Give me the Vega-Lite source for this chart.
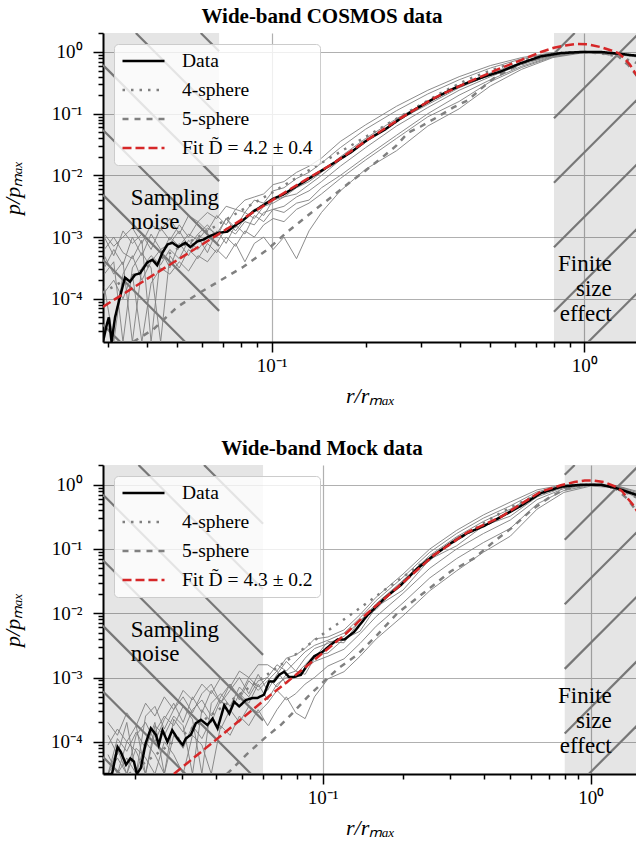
{
"$schema":"https://vega.github.io/schema/vega-lite/v6.json",
"background":"white",
"padding":{"left":1,"top":6,"right":0,"bottom":0},
"config":{
 "font":"Liberation Serif",
 "view":{"stroke":null},
 "axis":{"labelFont":"Liberation Serif","labelFontSize":19,"labelColor":"black","titleFont":"Liberation Serif","titleFontSize":22,"titleFontWeight":"normal","titleFontStyle":"italic","titleColor":"black","domainColor":"black","domainWidth":2,"tickColor":"black","tickWidth":1.5,"gridColor":"#b0b0b0","gridWidth":1.2,"labelOverlap":false,"labelFlush":false},
 "legend":{"orient":"top-left","offset":11,"fillColor":"rgba(255,255,255,0.8)","strokeColor":"#cccccc","cornerRadius":4,"padding":7,"symbolType":"stroke","symbolSize":1764,"symbolStrokeWidth":2.5,"clipHeight":20,"rowPadding":9,"labelOffset":16,"labelFont":"Liberation Serif","labelFontSize":19.5,"labelColor":"black","labelLimit":400},
 "title":{"font":"Liberation Serif","fontSize":21,"fontWeight":"bold","color":"black"}
},
"datasets":{
"topShade":[{"x":0.02892,"x2":0.068,"y":1.995e-5,"y2":2.032},{"x":0.8,"x2":1.474,"y":1.995e-5,"y2":2.032}],
"botShade":[{"x":0.01518,"x2":0.06,"y":3.15e-5,"y2":2.027},{"x":0.8,"x2":1.488,"y":3.15e-5,"y2":2.027}],
"topHatch":[
{"x":0.05939,"y":2.032,"x2":0.06799,"y2":1.026},
{"x":0.03683,"y":2.032,"x2":0.06799,"y2":0.0911},
{"x":0.02892,"y":0.6134,"x2":0.06799,"y2":0.008083},
{"x":0.02892,"y":0.05441,"x2":0.06799,"y2":0.0007175},
{"x":0.02892,"y":0.004831,"x2":0.06799,"y2":6.368e-5},
{"x":0.02892,"y":0.0004286,"x2":0.05299,"y2":1.995e-5},
{"x":0.02892,"y":3.803e-5,"x2":0.03286,"y2":1.995e-5},
{"x":0.8,"y":0.9385,"x2":0.9318,"y2":2.032},
{"x":0.8,"y":0.08455,"x2":1.474,"y2":1.872},
{"x":0.8,"y":0.007616,"x2":1.474,"y2":0.1686},
{"x":0.8,"y":0.0006861,"x2":1.474,"y2":0.01519},
{"x":0.8,"y":6.178e-5,"x2":1.474,"y2":0.001368},
{"x":1.0291,"y":1.995e-5,"x2":1.474,"y2":0.0001232}],
"botHatch":[
{"x":0.03615,"y":2.027,"x2":0.06,"y2":0.2469},
{"x":0.0206,"y":2.027,"x2":0.06,"y2":0.02357},
{"x":0.01518,"y":0.6985,"x2":0.06,"y2":0.002249},
{"x":0.01518,"y":0.06668,"x2":0.06,"y2":0.0002147},
{"x":0.01518,"y":0.006364,"x2":0.05415,"y2":3.15e-5},
{"x":0.01518,"y":0.0006074,"x2":0.03085,"y2":3.15e-5},
{"x":0.01518,"y":5.797e-5,"x2":0.01757,"y2":3.15e-5},
{"x":0.8,"y":1.432,"x2":0.8715,"y2":2.027},
{"x":0.8,"y":0.1391,"x2":1.488,"y2":1.86},
{"x":0.8,"y":0.01376,"x2":1.488,"y2":0.184},
{"x":0.8,"y":0.001361,"x2":1.488,"y2":0.0182},
{"x":0.8,"y":0.0001346,"x2":1.488,"y2":0.0018},
{"x":0.983,"y":3.15e-5,"x2":1.488,"y2":0.0001781}],
"topText":[{"a":"l","x":0.0355,"y":0.00335,"t":"Sampling\nnoise"},{"a":"r","x":1.224,"y":0.000278,"t":"Finite\nsize\neffect"}],
"botText":[{"a":"l","x":0.01927,"y":0.004335,"t":"Sampling\nnoise"},{"a":"r","x":1.198,"y":0.000396,"t":"Finite\nsize\neffect"}],
"topMain":[
{"s":"Fit","x":0.0289,"y":7.4e-5},{"s":"Fit","x":0.04,"y":2.1e-4},{"s":"Fit","x":0.06,"y":7.6e-4},{"s":"Fit","x":0.08,"y":1.9e-3},{"s":"Fit","x":0.1,"y":3.9e-3},{"s":"Fit","x":0.124,"y":7.6e-3},{"s":"Fit","x":0.158,"y":0.0158},{"s":"Fit","x":0.203,"y":0.038},{"s":"Fit","x":0.259,"y":0.085},{"s":"Fit","x":0.33,"y":0.178},{"s":"Fit","x":0.425,"y":0.324},{"s":"Fit","x":0.542,"y":0.55},{"s":"Fit","x":0.628,"y":0.74},{"s":"Fit","x":0.727,"y":1.0},{"s":"Fit","x":0.8,"y":1.17},{"s":"Fit","x":0.87,"y":1.28},{"s":"Fit","x":0.95,"y":1.35},{"s":"Fit","x":1.03,"y":1.33},{"s":"Fit","x":1.13,"y":1.2},{"s":"Fit","x":1.22,"y":1.06},{"s":"Fit","x":1.285,"y":0.96},{"s":"Fit","x":1.34,"y":0.8},{"s":"Fit","x":1.4,"y":0.62},{"s":"Fit","x":1.474,"y":0.41},
{"s":"Data","x":0.0289,"y":1.995e-5},{"s":"Data","x":0.0298,"y":4e-5},{"s":"Data","x":0.0302,"y":5e-5},{"s":"Data","x":0.0308,"y":1.995e-5},{"s":"Data","x":0.0316,"y":5e-5},{"s":"Data","x":0.0328,"y":1.1e-4},{"s":"Data","x":0.034,"y":2.2e-4},{"s":"Data","x":0.0353,"y":1.9e-4},{"s":"Data","x":0.0366,"y":2.45e-4},{"s":"Data","x":0.038,"y":2.6e-4},{"s":"Data","x":0.0401,"y":3.9e-4},{"s":"Data","x":0.0416,"y":4.3e-4},{"s":"Data","x":0.0431,"y":3.5e-4},{"s":"Data","x":0.0448,"y":5.6e-4},{"s":"Data","x":0.0465,"y":7.6e-4},{"s":"Data","x":0.0482,"y":8.1e-4},{"s":"Data","x":0.0504,"y":6.9e-4},{"s":"Data","x":0.053,"y":8.1e-4},{"s":"Data","x":0.055,"y":6.9e-4},{"s":"Data","x":0.0579,"y":8.5e-4},{"s":"Data","x":0.0605,"y":9.1e-4},{"s":"Data","x":0.0638,"y":1.05e-3},{"s":"Data","x":0.0676,"y":1.17e-3},{"s":"Data","x":0.0723,"y":1.23e-3},{"s":"Data","x":0.0755,"y":1.48e-3},{"s":"Data","x":0.0813,"y":1.9e-3},{"s":"Data","x":0.0875,"y":2.6e-3},{"s":"Data","x":0.0942,"y":3.3e-3},{"s":"Data","x":0.1014,"y":4.2e-3},{"s":"Data","x":0.109,"y":4.9e-3},{"s":"Data","x":0.118,"y":6.3e-3},{"s":"Data","x":0.13,"y":8.5e-3},{"s":"Data","x":0.1436,"y":0.0117},{"s":"Data","x":0.158,"y":0.0158},{"s":"Data","x":0.18,"y":0.024},{"s":"Data","x":0.203,"y":0.038},{"s":"Data","x":0.23,"y":0.055},{"s":"Data","x":0.259,"y":0.084},{"s":"Data","x":0.29,"y":0.12},{"s":"Data","x":0.33,"y":0.175},{"s":"Data","x":0.375,"y":0.245},{"s":"Data","x":0.425,"y":0.32},{"s":"Data","x":0.48,"y":0.4},{"s":"Data","x":0.5415,"y":0.485},{"s":"Data","x":0.627,"y":0.66},{"s":"Data","x":0.727,"y":0.85},{"s":"Data","x":0.842,"y":0.96},{"s":"Data","x":0.977,"y":1.0},{"s":"Data","x":1.13,"y":1.0},{"s":"Data","x":1.285,"y":0.94},{"s":"Data","x":1.474,"y":0.87},
{"s":"4-sphere","x":0.0289,"y":1.26e-4},{"s":"4-sphere","x":0.035,"y":2.2e-4},{"s":"4-sphere","x":0.04,"y":3.3e-4},{"s":"4-sphere","x":0.05,"y":6.5e-4},{"s":"4-sphere","x":0.06,"y":1.1e-3},{"s":"4-sphere","x":0.07,"y":1.8e-3},{"s":"4-sphere","x":0.08,"y":2.7e-3},{"s":"4-sphere","x":0.1,"y":5.2e-3},{"s":"4-sphere","x":0.12,"y":9.1e-3},{"s":"4-sphere","x":0.14,"y":0.0145},{"s":"4-sphere","x":0.17,"y":0.026},{"s":"4-sphere","x":0.2,"y":0.042},{"s":"4-sphere","x":0.25,"y":0.082},{"s":"4-sphere","x":0.3,"y":0.14},{"s":"4-sphere","x":0.35,"y":0.22},{"s":"4-sphere","x":0.42,"y":0.35},{"s":"4-sphere","x":0.5,"y":0.5},{"s":"4-sphere","x":0.6,"y":0.68},{"s":"4-sphere","x":0.7,"y":0.83},{"s":"4-sphere","x":0.8,"y":0.93},{"s":"4-sphere","x":0.9,"y":0.99},{"s":"4-sphere","x":1.0,"y":1.0},{"s":"4-sphere","x":1.13,"y":0.95},{"s":"4-sphere","x":1.285,"y":0.85},{"s":"4-sphere","x":1.474,"y":0.66},
{"s":"5-sphere","x":0.0361,"y":2.0e-5},{"s":"5-sphere","x":0.0419,"y":3.2e-5},{"s":"5-sphere","x":0.05,"y":7.4e-5},{"s":"5-sphere","x":0.059,"y":1.26e-4},{"s":"5-sphere","x":0.0676,"y":1.9e-4},{"s":"5-sphere","x":0.0813,"y":3.3e-4},{"s":"5-sphere","x":0.097,"y":6.3e-4},{"s":"5-sphere","x":0.112,"y":1.2e-3},{"s":"5-sphere","x":0.13,"y":2.2e-3},{"s":"5-sphere","x":0.138,"y":2.8e-3},{"s":"5-sphere","x":0.16,"y":5.0e-3},{"s":"5-sphere","x":0.179,"y":7.9e-3},{"s":"5-sphere","x":0.2,"y":0.012},{"s":"5-sphere","x":0.227,"y":0.02},{"s":"5-sphere","x":0.25,"y":0.03},{"s":"5-sphere","x":0.273,"y":0.049},{"s":"5-sphere","x":0.3,"y":0.062},{"s":"5-sphere","x":0.34,"y":0.089},{"s":"5-sphere","x":0.38,"y":0.125},{"s":"5-sphere","x":0.425,"y":0.166},{"s":"5-sphere","x":0.47,"y":0.26},{"s":"5-sphere","x":0.515,"y":0.38},{"s":"5-sphere","x":0.57,"y":0.51},{"s":"5-sphere","x":0.65,"y":0.68},{"s":"5-sphere","x":0.75,"y":0.85},{"s":"5-sphere","x":0.85,"y":0.95},{"s":"5-sphere","x":1.0,"y":1.0},{"s":"5-sphere","x":1.13,"y":0.98},{"s":"5-sphere","x":1.285,"y":0.85},{"s":"5-sphere","x":1.38,"y":0.62},{"s":"5-sphere","x":1.474,"y":0.41}
],
"topBundle":[
{"c":"g1","x":0.0292,"y":1e-3},{"c":"g1","x":0.0313,"y":5e-4},{"c":"g1","x":0.0335,"y":1.26e-3},{"c":"g1","x":0.0359,"y":7.9e-4},{"c":"g1","x":0.0385,"y":1.12e-3},{"c":"g1","x":0.0412,"y":6.3e-4},{"c":"g1","x":0.0442,"y":1.41e-3},{"c":"g1","x":0.0473,"y":8.9e-4},{"c":"g1","x":0.0507,"y":1.58e-3},{"c":"g1","x":0.0543,"y":1e-3},{"c":"g1","x":0.0582,"y":1.78e-3},{"c":"g1","x":0.0624,"y":1.26e-3},{"c":"g1","x":0.0668,"y":2.24e-3},{"c":"g1","x":0.0716,"y":1.58e-3},{"c":"g1","x":0.0767,"y":2.82e-3},{"c":"g1","x":0.0822,"y":2.51e-3},{"c":"g1","x":0.0881,"y":3.98e-3},{"c":"g1","x":0.0944,"y":3.55e-3},{"c":"g1","x":0.1012,"y":5.62e-3},{"c":"g1","x":0.1096,"y":6.31e-3},{"c":"g1","x":0.1202,"y":8.91e-3},{"c":"g1","x":0.1318,"y":0.0112},{"c":"g1","x":0.1445,"y":0.0158},{"c":"g1","x":0.166,"y":0.0282},{"c":"g1","x":0.2,"y":0.0562},{"c":"g1","x":0.251,"y":0.112},{"c":"g1","x":0.316,"y":0.209},{"c":"g1","x":0.398,"y":0.355},{"c":"g1","x":0.501,"y":0.55},{"c":"g1","x":0.631,"y":0.776},{"c":"g1","x":0.794,"y":0.955},{"c":"g1","x":1,"y":1},{"c":"g1","x":1.259,"y":0.933},{"c":"g1","x":1.474,"y":0.851},
{"c":"g2","x":0.0292,"y":3.16e-4},{"c":"g2","x":0.0313,"y":6.3e-4},{"c":"g2","x":0.0335,"y":3.55e-4},{"c":"g2","x":0.0359,"y":1e-3},{"c":"g2","x":0.0385,"y":5e-4},{"c":"g2","x":0.0412,"y":1.12e-3},{"c":"g2","x":0.0442,"y":6.3e-4},{"c":"g2","x":0.0473,"y":7.9e-4},{"c":"g2","x":0.0507,"y":1.26e-3},{"c":"g2","x":0.0543,"y":7.1e-4},{"c":"g2","x":0.0582,"y":1.12e-3},{"c":"g2","x":0.0624,"y":1.58e-3},{"c":"g2","x":0.0668,"y":1e-3},{"c":"g2","x":0.0716,"y":2e-3},{"c":"g2","x":0.0767,"y":1.41e-3},{"c":"g2","x":0.0822,"y":2.51e-3},{"c":"g2","x":0.0881,"y":2e-3},{"c":"g2","x":0.0944,"y":3.16e-3},{"c":"g2","x":0.1012,"y":3.55e-3},{"c":"g2","x":0.1096,"y":4.47e-3},{"c":"g2","x":0.1202,"y":6.31e-3},{"c":"g2","x":0.1318,"y":7.94e-3},{"c":"g2","x":0.1445,"y":0.0112},{"c":"g2","x":0.166,"y":0.02},{"c":"g2","x":0.2,"y":0.0398},{"c":"g2","x":0.251,"y":0.0832},{"c":"g2","x":0.316,"y":0.158},{"c":"g2","x":0.398,"y":0.282},{"c":"g2","x":0.501,"y":0.457},{"c":"g2","x":0.631,"y":0.676},{"c":"g2","x":0.794,"y":0.891},{"c":"g2","x":1,"y":1},{"c":"g2","x":1.259,"y":0.933},{"c":"g2","x":1.474,"y":0.851},
{"c":"g3","x":0.0292,"y":1.58e-4},{"c":"g3","x":0.0313,"y":1.995e-5},{"c":"g3","x":0.0335,"y":2.51e-4},{"c":"g3","x":0.0359,"y":5e-4},{"c":"g3","x":0.0385,"y":2e-4},{"c":"g3","x":0.0412,"y":3.98e-4},{"c":"g3","x":0.0442,"y":6.3e-4},{"c":"g3","x":0.0473,"y":3.16e-4},{"c":"g3","x":0.0507,"y":7.9e-4},{"c":"g3","x":0.0543,"y":5e-4},{"c":"g3","x":0.0582,"y":1e-3},{"c":"g3","x":0.0624,"y":5.6e-4},{"c":"g3","x":0.0668,"y":1.26e-3},{"c":"g3","x":0.0716,"y":7.9e-4},{"c":"g3","x":0.0767,"y":1.58e-3},{"c":"g3","x":0.0822,"y":1.12e-3},{"c":"g3","x":0.0881,"y":2.24e-3},{"c":"g3","x":0.0944,"y":1.78e-3},{"c":"g3","x":0.1012,"y":2.82e-3},{"c":"g3","x":0.1096,"y":3.16e-3},{"c":"g3","x":0.1202,"y":4.47e-3},{"c":"g3","x":0.1318,"y":5.62e-3},{"c":"g3","x":0.1445,"y":7.94e-3},{"c":"g3","x":0.166,"y":0.0141},{"c":"g3","x":0.2,"y":0.0282},{"c":"g3","x":0.251,"y":0.0631},{"c":"g3","x":0.316,"y":0.126},{"c":"g3","x":0.398,"y":0.24},{"c":"g3","x":0.501,"y":0.398},{"c":"g3","x":0.631,"y":0.631},{"c":"g3","x":0.794,"y":0.871},{"c":"g3","x":1,"y":1},{"c":"g3","x":1.259,"y":0.933},{"c":"g3","x":1.474,"y":0.871},
{"c":"g4","x":0.0292,"y":5e-4},{"c":"g4","x":0.0313,"y":2.51e-4},{"c":"g4","x":0.0335,"y":3.98e-4},{"c":"g4","x":0.0359,"y":1.995e-5},{"c":"g4","x":0.0385,"y":3.16e-4},{"c":"g4","x":0.0412,"y":5e-4},{"c":"g4","x":0.0442,"y":3.55e-4},{"c":"g4","x":0.0473,"y":6.3e-4},{"c":"g4","x":0.0507,"y":4.47e-4},{"c":"g4","x":0.0543,"y":8.9e-4},{"c":"g4","x":0.0582,"y":6.3e-4},{"c":"g4","x":0.0624,"y":1e-3},{"c":"g4","x":0.0668,"y":7.9e-4},{"c":"g4","x":0.0716,"y":1.41e-3},{"c":"g4","x":0.0767,"y":1.12e-3},{"c":"g4","x":0.0822,"y":1.78e-3},{"c":"g4","x":0.0881,"y":1.58e-3},{"c":"g4","x":0.0944,"y":2.51e-3},{"c":"g4","x":0.1012,"y":2.82e-3},{"c":"g4","x":0.1096,"y":2.51e-3},{"c":"g4","x":0.1202,"y":3.55e-3},{"c":"g4","x":0.1318,"y":3.98e-3},{"c":"g4","x":0.1445,"y":6.31e-3},{"c":"g4","x":0.166,"y":0.01},{"c":"g4","x":0.2,"y":0.02},{"c":"g4","x":0.251,"y":0.0447},{"c":"g4","x":0.316,"y":0.1},{"c":"g4","x":0.398,"y":0.2},{"c":"g4","x":0.501,"y":0.355},{"c":"g4","x":0.631,"y":0.589},{"c":"g4","x":0.794,"y":0.851},{"c":"g4","x":1,"y":1},{"c":"g4","x":1.259,"y":0.912},{"c":"g4","x":1.474,"y":0.851},
{"c":"g5","x":0.0292,"y":1.26e-4},{"c":"g5","x":0.0313,"y":2e-4},{"c":"g5","x":0.0335,"y":1e-4},{"c":"g5","x":0.0359,"y":2.51e-4},{"c":"g5","x":0.0385,"y":1.995e-5},{"c":"g5","x":0.0412,"y":1.78e-4},{"c":"g5","x":0.0442,"y":3.16e-4},{"c":"g5","x":0.0473,"y":2.51e-4},{"c":"g5","x":0.0507,"y":3.98e-4},{"c":"g5","x":0.0543,"y":2.82e-4},{"c":"g5","x":0.0582,"y":5e-4},{"c":"g5","x":0.0624,"y":3.98e-4},{"c":"g5","x":0.0668,"y":6.3e-4},{"c":"g5","x":0.0716,"y":4.47e-4},{"c":"g5","x":0.0767,"y":7.9e-4},{"c":"g5","x":0.0822,"y":3.98e-4},{"c":"g5","x":0.0881,"y":7.9e-4},{"c":"g5","x":0.0944,"y":1e-3},{"c":"g5","x":0.1012,"y":6.3e-4},{"c":"g5","x":0.1096,"y":1e-3},{"c":"g5","x":0.1202,"y":4.47e-4},{"c":"g5","x":0.1318,"y":1.26e-3},{"c":"g5","x":0.1445,"y":2.51e-3},{"c":"g5","x":0.166,"y":5.62e-3},{"c":"g5","x":0.2,"y":0.0126},{"c":"g5","x":0.251,"y":0.0251},{"c":"g5","x":0.316,"y":0.0631},{"c":"g5","x":0.398,"y":0.12},{"c":"g5","x":0.501,"y":0.282},{"c":"g5","x":0.631,"y":0.525},{"c":"g5","x":0.794,"y":0.813},{"c":"g5","x":1,"y":0.977},{"c":"g5","x":1.259,"y":0.912},{"c":"g5","x":1.474,"y":0.851},
{"c":"g6","x":0.0292,"y":6.3e-4},{"c":"g6","x":0.0313,"y":1e-3},{"c":"g6","x":0.0335,"y":5.6e-4},{"c":"g6","x":0.0359,"y":4.47e-4},{"c":"g6","x":0.0385,"y":8.9e-4},{"c":"g6","x":0.0412,"y":1.995e-5},{"c":"g6","x":0.0442,"y":5e-4},{"c":"g6","x":0.0473,"y":1e-3},{"c":"g6","x":0.0507,"y":7.1e-4},{"c":"g6","x":0.0543,"y":1.12e-3},{"c":"g6","x":0.0582,"y":8.9e-4},{"c":"g6","x":0.0624,"y":1.41e-3},{"c":"g6","x":0.0668,"y":1.12e-3},{"c":"g6","x":0.0716,"y":2e-3},{"c":"g6","x":0.0767,"y":1.26e-3},{"c":"g6","x":0.0822,"y":2e-3},{"c":"g6","x":0.0881,"y":2.82e-3},{"c":"g6","x":0.0944,"y":2.24e-3},{"c":"g6","x":0.1012,"y":3.98e-3},{"c":"g6","x":0.1096,"y":4.47e-3},{"c":"g6","x":0.1202,"y":5.01e-3},{"c":"g6","x":0.1318,"y":7.08e-3},{"c":"g6","x":0.1445,"y":0.01},{"c":"g6","x":0.166,"y":0.0178},{"c":"g6","x":0.2,"y":0.0355},{"c":"g6","x":0.251,"y":0.0759},{"c":"g6","x":0.316,"y":0.141},{"c":"g6","x":0.398,"y":0.263},{"c":"g6","x":0.501,"y":0.427},{"c":"g6","x":0.631,"y":0.661},{"c":"g6","x":0.794,"y":0.891},{"c":"g6","x":1,"y":1},{"c":"g6","x":1.259,"y":0.933},{"c":"g6","x":1.474,"y":0.871},
{"c":"g7","x":0.0292,"y":2.51e-4},{"c":"g7","x":0.0313,"y":3.98e-4},{"c":"g7","x":0.0335,"y":1.995e-5},{"c":"g7","x":0.0359,"y":3.16e-4},{"c":"g7","x":0.0385,"y":5.6e-4},{"c":"g7","x":0.0412,"y":3.16e-4},{"c":"g7","x":0.0442,"y":1.995e-5},{"c":"g7","x":0.0473,"y":5e-4},{"c":"g7","x":0.0507,"y":3.16e-4},{"c":"g7","x":0.0543,"y":6.3e-4},{"c":"g7","x":0.0582,"y":4.47e-4},{"c":"g7","x":0.0624,"y":7.9e-4},{"c":"g7","x":0.0668,"y":5.6e-4},{"c":"g7","x":0.0716,"y":1e-3},{"c":"g7","x":0.0767,"y":7.1e-4},{"c":"g7","x":0.0822,"y":1.26e-3},{"c":"g7","x":0.0881,"y":1e-3},{"c":"g7","x":0.0944,"y":1.58e-3},{"c":"g7","x":0.1012,"y":2e-3},{"c":"g7","x":0.1096,"y":1.78e-3},{"c":"g7","x":0.1202,"y":2.82e-3},{"c":"g7","x":0.1318,"y":3.55e-3},{"c":"g7","x":0.1445,"y":5.01e-3},{"c":"g7","x":0.166,"y":8.9e-3},{"c":"g7","x":0.2,"y":0.0178},{"c":"g7","x":0.251,"y":0.0398},{"c":"g7","x":0.316,"y":0.0891},{"c":"g7","x":0.398,"y":0.158},{"c":"g7","x":0.501,"y":0.331},{"c":"g7","x":0.631,"y":0.562},{"c":"g7","x":0.794,"y":0.832},{"c":"g7","x":1,"y":1},{"c":"g7","x":1.259,"y":0.912},{"c":"g7","x":1.474,"y":0.832},
{"c":"g8","x":0.0292,"y":1.12e-3},{"c":"g8","x":0.0313,"y":7.1e-4},{"c":"g8","x":0.0335,"y":1e-3},{"c":"g8","x":0.0359,"y":1.41e-3},{"c":"g8","x":0.0385,"y":7.9e-4},{"c":"g8","x":0.0412,"y":1.58e-3},{"c":"g8","x":0.0442,"y":1.26e-3},{"c":"g8","x":0.0473,"y":2e-3},{"c":"g8","x":0.0507,"y":1.12e-3},{"c":"g8","x":0.0543,"y":2.24e-3},{"c":"g8","x":0.0582,"y":1.78e-3},{"c":"g8","x":0.0624,"y":2.51e-3},{"c":"g8","x":0.0668,"y":2e-3},{"c":"g8","x":0.0716,"y":3.16e-3},{"c":"g8","x":0.0767,"y":2.82e-3},{"c":"g8","x":0.0822,"y":3.98e-3},{"c":"g8","x":0.0881,"y":4.47e-3},{"c":"g8","x":0.0944,"y":5.01e-3},{"c":"g8","x":0.1012,"y":7.08e-3},{"c":"g8","x":0.1096,"y":7.94e-3},{"c":"g8","x":0.1202,"y":0.0112},{"c":"g8","x":0.1318,"y":0.0141},{"c":"g8","x":0.1445,"y":0.0191},{"c":"g8","x":0.166,"y":0.0355},{"c":"g8","x":0.2,"y":0.0661},{"c":"g8","x":0.251,"y":0.132},{"c":"g8","x":0.316,"y":0.24},{"c":"g8","x":0.398,"y":0.398},{"c":"g8","x":0.501,"y":0.603},{"c":"g8","x":0.631,"y":0.813},{"c":"g8","x":0.794,"y":0.977},{"c":"g8","x":1,"y":1},{"c":"g8","x":1.259,"y":0.955},{"c":"g8","x":1.474,"y":0.871}
],
"botMain":[
{"s":"Fit","x":0.0279,"y":3.15e-5},{"s":"Fit","x":0.04,"y":1.07e-4},{"s":"Fit","x":0.06,"y":4.3e-4},{"s":"Fit","x":0.08,"y":1.12e-3},{"s":"Fit","x":0.1,"y":2.4e-3},{"s":"Fit","x":0.12,"y":4.5e-3},{"s":"Fit","x":0.147,"y":0.01},{"s":"Fit","x":0.196,"y":0.028},{"s":"Fit","x":0.261,"y":0.081},{"s":"Fit","x":0.347,"y":0.182},{"s":"Fit","x":0.463,"y":0.316},{"s":"Fit","x":0.549,"y":0.5},{"s":"Fit","x":0.651,"y":0.78},{"s":"Fit","x":0.774,"y":0.98},{"s":"Fit","x":0.87,"y":1.1},{"s":"Fit","x":0.95,"y":1.16},{"s":"Fit","x":1.03,"y":1.16},{"s":"Fit","x":1.12,"y":1.1},{"s":"Fit","x":1.24,"y":0.93},{"s":"Fit","x":1.31,"y":0.79},{"s":"Fit","x":1.37,"y":0.62},{"s":"Fit","x":1.43,"y":0.5},{"s":"Fit","x":1.488,"y":0.39},
{"s":"Data","x":0.0152,"y":3.15e-5},{"s":"Data","x":0.0164,"y":3.15e-5},{"s":"Data","x":0.0172,"y":8.3e-5},{"s":"Data","x":0.0177,"y":6.9e-5},{"s":"Data","x":0.0185,"y":4.4e-5},{"s":"Data","x":0.0192,"y":5.5e-5},{"s":"Data","x":0.0198,"y":4.9e-5},{"s":"Data","x":0.0203,"y":3.15e-5},{"s":"Data","x":0.021,"y":3.9e-5},{"s":"Data","x":0.0219,"y":9.5e-5},{"s":"Data","x":0.0229,"y":1.62e-4},{"s":"Data","x":0.0239,"y":1.29e-4},{"s":"Data","x":0.0245,"y":8.9e-5},{"s":"Data","x":0.0253,"y":1.51e-4},{"s":"Data","x":0.0264,"y":1e-4},{"s":"Data","x":0.0275,"y":1.51e-4},{"s":"Data","x":0.0288,"y":1.12e-4},{"s":"Data","x":0.0301,"y":8.9e-5},{"s":"Data","x":0.0309,"y":1.12e-4},{"s":"Data","x":0.0323,"y":1.29e-4},{"s":"Data","x":0.0337,"y":1.95e-4},{"s":"Data","x":0.0352,"y":2.19e-4},{"s":"Data","x":0.0372,"y":1.82e-4},{"s":"Data","x":0.0389,"y":2.29e-4},{"s":"Data","x":0.0406,"y":1.62e-4},{"s":"Data","x":0.043,"y":3.7e-4},{"s":"Data","x":0.0449,"y":2.75e-4},{"s":"Data","x":0.0468,"y":4.2e-4},{"s":"Data","x":0.0489,"y":3.55e-4},{"s":"Data","x":0.0518,"y":4.47e-4},{"s":"Data","x":0.0548,"y":4.8e-4},{"s":"Data","x":0.0571,"y":4.8e-4},{"s":"Data","x":0.0605,"y":5.4e-4},{"s":"Data","x":0.0632,"y":8.7e-4},{"s":"Data","x":0.0659,"y":8.7e-4},{"s":"Data","x":0.0689,"y":1.1e-3},{"s":"Data","x":0.0719,"y":1.23e-3},{"s":"Data","x":0.075,"y":1.02e-3},{"s":"Data","x":0.0783,"y":1.02e-3},{"s":"Data","x":0.083,"y":1.1e-3},{"s":"Data","x":0.0879,"y":1.58e-3},{"s":"Data","x":0.0931,"y":2.14e-3},{"s":"Data","x":0.1,"y":2.51e-3},{"s":"Data","x":0.1074,"y":3.24e-3},{"s":"Data","x":0.1138,"y":3.89e-3},{"s":"Data","x":0.1205,"y":3.89e-3},{"s":"Data","x":0.131,"y":5.1e-3},{"s":"Data","x":0.147,"y":9.3e-3},{"s":"Data","x":0.17,"y":0.017},{"s":"Data","x":0.196,"y":0.0275},{"s":"Data","x":0.226,"y":0.05},{"s":"Data","x":0.261,"y":0.081},{"s":"Data","x":0.301,"y":0.123},{"s":"Data","x":0.348,"y":0.178},{"s":"Data","x":0.401,"y":0.229},{"s":"Data","x":0.463,"y":0.316},{"s":"Data","x":0.549,"y":0.468},{"s":"Data","x":0.651,"y":0.74},{"s":"Data","x":0.774,"y":0.93},{"s":"Data","x":0.92,"y":1.0},{"s":"Data","x":1.09,"y":1.0},{"s":"Data","x":1.24,"y":0.89},{"s":"Data","x":1.488,"y":0.69},
{"s":"4-sphere","x":0.019,"y":3.15e-5},{"s":"4-sphere","x":0.02,"y":3.7e-5},{"s":"4-sphere","x":0.03,"y":1.26e-4},{"s":"4-sphere","x":0.04,"y":2.95e-4},{"s":"4-sphere","x":0.05,"y":5.8e-4},{"s":"4-sphere","x":0.06,"y":1e-3},{"s":"4-sphere","x":0.07,"y":1.58e-3},{"s":"4-sphere","x":0.08,"y":2.34e-3},{"s":"4-sphere","x":0.1,"y":4.7e-3},{"s":"4-sphere","x":0.117,"y":7.4e-3},{"s":"4-sphere","x":0.14,"y":0.0126},{"s":"4-sphere","x":0.17,"y":0.0229},{"s":"4-sphere","x":0.2,"y":0.037},{"s":"4-sphere","x":0.25,"y":0.072},{"s":"4-sphere","x":0.3,"y":0.12},{"s":"4-sphere","x":0.35,"y":0.18},{"s":"4-sphere","x":0.42,"y":0.29},{"s":"4-sphere","x":0.5,"y":0.44},{"s":"4-sphere","x":0.6,"y":0.63},{"s":"4-sphere","x":0.7,"y":0.8},{"s":"4-sphere","x":0.8,"y":0.91},{"s":"4-sphere","x":0.9,"y":0.98},{"s":"4-sphere","x":1.0,"y":1.0},{"s":"4-sphere","x":1.1,"y":0.98},{"s":"4-sphere","x":1.24,"y":0.87},{"s":"4-sphere","x":1.37,"y":0.74},{"s":"4-sphere","x":1.488,"y":0.63},
{"s":"5-sphere","x":0.044,"y":3.15e-5},{"s":"5-sphere","x":0.052,"y":6.3e-5},{"s":"5-sphere","x":0.0605,"y":1.12e-4},{"s":"5-sphere","x":0.0698,"y":1.82e-4},{"s":"5-sphere","x":0.0783,"y":2.95e-4},{"s":"5-sphere","x":0.088,"y":5e-4},{"s":"5-sphere","x":0.1,"y":8.3e-4},{"s":"5-sphere","x":0.115,"y":1.41e-3},{"s":"5-sphere","x":0.1345,"y":2.24e-3},{"s":"5-sphere","x":0.16,"y":4.6e-3},{"s":"5-sphere","x":0.19,"y":0.01},{"s":"5-sphere","x":0.246,"y":0.023},{"s":"5-sphere","x":0.301,"y":0.045},{"s":"5-sphere","x":0.368,"y":0.072},{"s":"5-sphere","x":0.437,"y":0.132},{"s":"5-sphere","x":0.505,"y":0.209},{"s":"5-sphere","x":0.6,"y":0.4},{"s":"5-sphere","x":0.7,"y":0.63},{"s":"5-sphere","x":0.8,"y":0.85},{"s":"5-sphere","x":0.9,"y":0.95},{"s":"5-sphere","x":1.0,"y":1.0},{"s":"5-sphere","x":1.1,"y":1.0},{"s":"5-sphere","x":1.24,"y":0.87},{"s":"5-sphere","x":1.37,"y":0.6},{"s":"5-sphere","x":1.488,"y":0.38}
],
"botBundle":[
{"c":"b1","x":0.01585,"y":3.15e-5},{"c":"b1","x":0.01718,"y":7.9e-5},{"c":"b1","x":0.01862,"y":3.15e-5},{"c":"b1","x":0.02018,"y":1.26e-4},{"c":"b1","x":0.02188,"y":2e-4},{"c":"b1","x":0.02371,"y":1e-4},{"c":"b1","x":0.0257,"y":2.24e-4},{"c":"b1","x":0.02786,"y":3.98e-4},{"c":"b1","x":0.0302,"y":2e-4},{"c":"b1","x":0.03273,"y":5e-4},{"c":"b1","x":0.03548,"y":2.82e-4},{"c":"b1","x":0.03846,"y":6.3e-4},{"c":"b1","x":0.04169,"y":3.98e-4},{"c":"b1","x":0.04519,"y":7.9e-4},{"c":"b1","x":0.04898,"y":5e-4},{"c":"b1","x":0.05309,"y":1e-3},{"c":"b1","x":0.05754,"y":7.1e-4},{"c":"b1","x":0.06237,"y":1e-3},{"c":"b1","x":0.06761,"y":1.58e-3},{"c":"b1","x":0.07328,"y":1.26e-3},{"c":"b1","x":0.07943,"y":1.78e-3},{"c":"b1","x":0.0861,"y":2.51e-3},{"c":"b1","x":0.09333,"y":3.16e-3},{"c":"b1","x":0.1047,"y":3.8e-3},{"c":"b1","x":0.1202,"y":4.9e-3},{"c":"b1","x":0.138,"y":8.5e-3},{"c":"b1","x":0.1585,"y":0.0158},{"c":"b1","x":0.1995,"y":0.0363},{"c":"b1","x":0.2512,"y":0.0891},{"c":"b1","x":0.3162,"y":0.174},{"c":"b1","x":0.3981,"y":0.302},{"c":"b1","x":0.5012,"y":0.468},{"c":"b1","x":0.631,"y":0.776},{"c":"b1","x":0.7943,"y":0.977},{"c":"b1","x":1,"y":1},{"c":"b1","x":1.259,"y":0.955},{"c":"b1","x":1.479,"y":0.759},
{"c":"b2","x":0.01585,"y":6.3e-5},{"c":"b2","x":0.01718,"y":3.15e-5},{"c":"b2","x":0.01862,"y":1e-4},{"c":"b2","x":0.02018,"y":7.1e-5},{"c":"b2","x":0.02188,"y":3.15e-5},{"c":"b2","x":0.02371,"y":1.78e-4},{"c":"b2","x":0.0257,"y":1.26e-4},{"c":"b2","x":0.02786,"y":2.51e-4},{"c":"b2","x":0.0302,"y":1.78e-4},{"c":"b2","x":0.03273,"y":3.15e-5},{"c":"b2","x":0.03548,"y":3.16e-4},{"c":"b2","x":0.03846,"y":2e-4},{"c":"b2","x":0.04169,"y":4.47e-4},{"c":"b2","x":0.04519,"y":2.82e-4},{"c":"b2","x":0.04898,"y":5.6e-4},{"c":"b2","x":0.05309,"y":3.98e-4},{"c":"b2","x":0.05754,"y":7.9e-4},{"c":"b2","x":0.06237,"y":4.47e-4},{"c":"b2","x":0.06761,"y":7.9e-4},{"c":"b2","x":0.07328,"y":1e-3},{"c":"b2","x":0.07943,"y":1e-3},{"c":"b2","x":0.0861,"y":1.41e-3},{"c":"b2","x":0.09333,"y":1.78e-3},{"c":"b2","x":0.1047,"y":2.14e-3},{"c":"b2","x":0.1202,"y":2.75e-3},{"c":"b2","x":0.138,"y":4.8e-3},{"c":"b2","x":0.1585,"y":8.9e-3},{"c":"b2","x":0.1995,"y":0.0204},{"c":"b2","x":0.2512,"y":0.0501},{"c":"b2","x":0.3162,"y":0.1},{"c":"b2","x":0.3981,"y":0.174},{"c":"b2","x":0.5012,"y":0.282},{"c":"b2","x":0.631,"y":0.589},{"c":"b2","x":0.7943,"y":0.871},{"c":"b2","x":1,"y":1},{"c":"b2","x":1.259,"y":0.933},{"c":"b2","x":1.479,"y":0.708},
{"c":"b3","x":0.01585,"y":3.15e-5},{"c":"b3","x":0.01718,"y":3.15e-5},{"c":"b3","x":0.01862,"y":5.6e-5},{"c":"b3","x":0.02018,"y":3.15e-5},{"c":"b3","x":0.02188,"y":1e-4},{"c":"b3","x":0.02371,"y":6.3e-5},{"c":"b3","x":0.0257,"y":3.15e-5},{"c":"b3","x":0.02786,"y":1.26e-4},{"c":"b3","x":0.0302,"y":7.9e-5},{"c":"b3","x":0.03273,"y":1.78e-4},{"c":"b3","x":0.03548,"y":1.12e-4},{"c":"b3","x":0.03846,"y":2.24e-4},{"c":"b3","x":0.04169,"y":1.58e-4},{"c":"b3","x":0.04519,"y":3.16e-4},{"c":"b3","x":0.04898,"y":2e-4},{"c":"b3","x":0.05309,"y":3.55e-4},{"c":"b3","x":0.05754,"y":2.82e-4},{"c":"b3","x":0.06237,"y":3.98e-4},{"c":"b3","x":0.06761,"y":6.3e-4},{"c":"b3","x":0.07328,"y":4.47e-4},{"c":"b3","x":0.07943,"y":5.6e-4},{"c":"b3","x":0.0861,"y":7.9e-4},{"c":"b3","x":0.09333,"y":1e-3},{"c":"b3","x":0.1047,"y":1.51e-3},{"c":"b3","x":0.1202,"y":1.95e-3},{"c":"b3","x":0.138,"y":3.39e-3},{"c":"b3","x":0.1585,"y":6.3e-3},{"c":"b3","x":0.1995,"y":0.0145},{"c":"b3","x":0.2512,"y":0.0355},{"c":"b3","x":0.3162,"y":0.0708},{"c":"b3","x":0.3981,"y":0.126},{"c":"b3","x":0.5012,"y":0.209},{"c":"b3","x":0.631,"y":0.501},{"c":"b3","x":0.7943,"y":0.813},{"c":"b3","x":1,"y":0.977},{"c":"b3","x":1.259,"y":0.912},{"c":"b3","x":1.479,"y":0.661},
{"c":"b4","x":0.01585,"y":1.26e-4},{"c":"b4","x":0.01718,"y":6.3e-5},{"c":"b4","x":0.01862,"y":2e-4},{"c":"b4","x":0.02018,"y":3.15e-5},{"c":"b4","x":0.02188,"y":2.51e-4},{"c":"b4","x":0.02371,"y":3.55e-4},{"c":"b4","x":0.0257,"y":1.58e-4},{"c":"b4","x":0.02786,"y":3.16e-4},{"c":"b4","x":0.0302,"y":5e-4},{"c":"b4","x":0.03273,"y":2.82e-4},{"c":"b4","x":0.03548,"y":5.6e-4},{"c":"b4","x":0.03846,"y":7.9e-4},{"c":"b4","x":0.04169,"y":3.98e-4},{"c":"b4","x":0.04519,"y":6.3e-4},{"c":"b4","x":0.04898,"y":1e-3},{"c":"b4","x":0.05309,"y":5.6e-4},{"c":"b4","x":0.05754,"y":1.12e-3},{"c":"b4","x":0.06237,"y":6.3e-4},{"c":"b4","x":0.06761,"y":1.12e-3},{"c":"b4","x":0.07328,"y":1.78e-3},{"c":"b4","x":0.07943,"y":1.26e-3},{"c":"b4","x":0.0861,"y":2e-3},{"c":"b4","x":0.09333,"y":2.82e-3},{"c":"b4","x":0.1047,"y":3.39e-3},{"c":"b4","x":0.1202,"y":4.37e-3},{"c":"b4","x":0.138,"y":7.6e-3},{"c":"b4","x":0.1585,"y":0.0141},{"c":"b4","x":0.1995,"y":0.0324},{"c":"b4","x":0.2512,"y":0.0794},{"c":"b4","x":0.3162,"y":0.155},{"c":"b4","x":0.3981,"y":0.269},{"c":"b4","x":0.5012,"y":0.417},{"c":"b4","x":0.631,"y":0.724},{"c":"b4","x":0.7943,"y":0.955},{"c":"b4","x":1,"y":1},{"c":"b4","x":1.259,"y":0.933},{"c":"b4","x":1.479,"y":0.724},
{"c":"b5","x":0.01585,"y":3.15e-5},{"c":"b5","x":0.01718,"y":5.6e-5},{"c":"b5","x":0.01862,"y":3.15e-5},{"c":"b5","x":0.02018,"y":7.9e-5},{"c":"b5","x":0.02188,"y":5.6e-5},{"c":"b5","x":0.02371,"y":3.15e-5},{"c":"b5","x":0.0257,"y":1e-4},{"c":"b5","x":0.02786,"y":6.3e-5},{"c":"b5","x":0.0302,"y":3.15e-5},{"c":"b5","x":0.03273,"y":1.26e-4},{"c":"b5","x":0.03548,"y":8.9e-5},{"c":"b5","x":0.03846,"y":3.15e-5},{"c":"b5","x":0.04169,"y":1.78e-4},{"c":"b5","x":0.04519,"y":1.26e-4},{"c":"b5","x":0.04898,"y":2.51e-4},{"c":"b5","x":0.05309,"y":1.78e-4},{"c":"b5","x":0.05754,"y":3.16e-4},{"c":"b5","x":0.06237,"y":1.78e-4},{"c":"b5","x":0.06761,"y":3.16e-4},{"c":"b5","x":0.07328,"y":5e-4},{"c":"b5","x":0.07943,"y":2.82e-4},{"c":"b5","x":0.0861,"y":2.29e-4},{"c":"b5","x":0.09333,"y":5e-4},{"c":"b5","x":0.1047,"y":9.5e-4},{"c":"b5","x":0.1202,"y":1.23e-3},{"c":"b5","x":0.138,"y":2.14e-3},{"c":"b5","x":0.1585,"y":3.98e-3},{"c":"b5","x":0.1995,"y":9.1e-3},{"c":"b5","x":0.2512,"y":0.0224},{"c":"b5","x":0.3162,"y":0.0457},{"c":"b5","x":0.3981,"y":0.0891},{"c":"b5","x":0.5012,"y":0.158},{"c":"b5","x":0.631,"y":0.417},{"c":"b5","x":0.7943,"y":0.759},{"c":"b5","x":1,"y":0.955},{"c":"b5","x":1.259,"y":0.891},{"c":"b5","x":1.479,"y":0.631},
{"c":"b6","x":0.01585,"y":8.9e-5},{"c":"b6","x":0.01718,"y":1.58e-4},{"c":"b6","x":0.01862,"y":1e-4},{"c":"b6","x":0.02018,"y":1.78e-4},{"c":"b6","x":0.02188,"y":3.15e-5},{"c":"b6","x":0.02371,"y":1.41e-4},{"c":"b6","x":0.0257,"y":2.51e-4},{"c":"b6","x":0.02786,"y":1.78e-4},{"c":"b6","x":0.0302,"y":3.55e-4},{"c":"b6","x":0.03273,"y":2.24e-4},{"c":"b6","x":0.03548,"y":3.15e-5},{"c":"b6","x":0.03846,"y":3.98e-4},{"c":"b6","x":0.04169,"y":5.6e-4},{"c":"b6","x":0.04519,"y":3.55e-4},{"c":"b6","x":0.04898,"y":7.1e-4},{"c":"b6","x":0.05309,"y":5e-4},{"c":"b6","x":0.05754,"y":8.9e-4},{"c":"b6","x":0.06237,"y":1e-3},{"c":"b6","x":0.06761,"y":7.1e-4},{"c":"b6","x":0.07328,"y":1.12e-3},{"c":"b6","x":0.07943,"y":1.26e-3},{"c":"b6","x":0.0861,"y":1.12e-3},{"c":"b6","x":0.09333,"y":2e-3},{"c":"b6","x":0.1047,"y":3.63e-3},{"c":"b6","x":0.1202,"y":3.47e-3},{"c":"b6","x":0.138,"y":7.8e-3},{"c":"b6","x":0.1585,"y":0.0115},{"c":"b6","x":0.1995,"y":0.0324},{"c":"b6","x":0.2512,"y":0.0661},{"c":"b6","x":0.3162,"y":0.151},{"c":"b6","x":0.3981,"y":0.229},{"c":"b6","x":0.5012,"y":0.398},{"c":"b6","x":0.631,"y":0.692},{"c":"b6","x":0.7943,"y":0.933},{"c":"b6","x":1,"y":1},{"c":"b6","x":1.259,"y":0.933},{"c":"b6","x":1.479,"y":0.708},
{"c":"b7","x":0.01585,"y":3.15e-5},{"c":"b7","x":0.01718,"y":1.12e-4},{"c":"b7","x":0.01862,"y":7.1e-5},{"c":"b7","x":0.02018,"y":1.41e-4},{"c":"b7","x":0.02188,"y":7.9e-5},{"c":"b7","x":0.02371,"y":2e-4},{"c":"b7","x":0.0257,"y":3.15e-5},{"c":"b7","x":0.02786,"y":2.24e-4},{"c":"b7","x":0.0302,"y":1.41e-4},{"c":"b7","x":0.03273,"y":3.16e-4},{"c":"b7","x":0.03548,"y":4.47e-4},{"c":"b7","x":0.03846,"y":2.51e-4},{"c":"b7","x":0.04169,"y":5e-4},{"c":"b7","x":0.04519,"y":7.9e-4},{"c":"b7","x":0.04898,"y":4.47e-4},{"c":"b7","x":0.05309,"y":8.9e-4},{"c":"b7","x":0.05754,"y":6.3e-4},{"c":"b7","x":0.06237,"y":8.9e-4},{"c":"b7","x":0.06761,"y":1.26e-3},{"c":"b7","x":0.07328,"y":7.9e-4},{"c":"b7","x":0.07943,"y":1.12e-3},{"c":"b7","x":0.0861,"y":1.58e-3},{"c":"b7","x":0.09333,"y":2.24e-3},{"c":"b7","x":0.1047,"y":2.4e-3},{"c":"b7","x":0.1202,"y":3.98e-3},{"c":"b7","x":0.138,"y":5.25e-3},{"c":"b7","x":0.1585,"y":0.0126},{"c":"b7","x":0.1995,"y":0.0229},{"c":"b7","x":0.2512,"y":0.0692},{"c":"b7","x":0.3162,"y":0.112},{"c":"b7","x":0.3981,"y":0.229},{"c":"b7","x":0.5012,"y":0.324},{"c":"b7","x":0.631,"y":0.646},{"c":"b7","x":0.7943,"y":0.912},{"c":"b7","x":1,"y":1},{"c":"b7","x":1.259,"y":0.933},{"c":"b7","x":1.479,"y":0.692},
{"c":"b8","x":0.01585,"y":2e-4},{"c":"b8","x":0.01718,"y":1.26e-4},{"c":"b8","x":0.01862,"y":2.82e-4},{"c":"b8","x":0.02018,"y":1.78e-4},{"c":"b8","x":0.02188,"y":3.98e-4},{"c":"b8","x":0.02371,"y":2.51e-4},{"c":"b8","x":0.0257,"y":5e-4},{"c":"b8","x":0.02786,"y":3.16e-4},{"c":"b8","x":0.0302,"y":6.3e-4},{"c":"b8","x":0.03273,"y":4.47e-4},{"c":"b8","x":0.03548,"y":7.9e-4},{"c":"b8","x":0.03846,"y":5.6e-4},{"c":"b8","x":0.04169,"y":1e-3},{"c":"b8","x":0.04519,"y":7.1e-4},{"c":"b8","x":0.04898,"y":1.26e-3},{"c":"b8","x":0.05309,"y":1e-3},{"c":"b8","x":0.05754,"y":1.58e-3},{"c":"b8","x":0.06237,"y":1.58e-3},{"c":"b8","x":0.06761,"y":1.26e-3},{"c":"b8","x":0.07328,"y":2e-3},{"c":"b8","x":0.07943,"y":2.24e-3},{"c":"b8","x":0.0861,"y":2.82e-3},{"c":"b8","x":0.09333,"y":3.98e-3},{"c":"b8","x":0.1047,"y":4.27e-3},{"c":"b8","x":0.1202,"y":5.5e-3},{"c":"b8","x":0.138,"y":9.5e-3},{"c":"b8","x":0.1585,"y":0.0178},{"c":"b8","x":0.1995,"y":0.0407},{"c":"b8","x":0.2512,"y":0.1},{"c":"b8","x":0.3162,"y":0.195},{"c":"b8","x":0.3981,"y":0.339},{"c":"b8","x":0.5012,"y":0.537},{"c":"b8","x":0.631,"y":0.832},{"c":"b8","x":0.7943,"y":1},{"c":"b8","x":1,"y":1},{"c":"b8","x":1.259,"y":0.955},{"c":"b8","x":1.479,"y":0.794}
]
},
"spacing":32,
"resolve":{"scale":{"x":"independent","y":"independent","color":"independent","strokeDash":"independent"}},
"vconcat":[
{
 "width":534,"height":309,
 "title":{"text":"Wide-band COSMOS data","dx":-48,"offset":-20,"baseline":"alphabetic"},
 "encoding":{
  "x":{"field":"x","type":"quantitative","scale":{"type":"log","domain":[0.02892,1.474],"nice":false},
   "axis":{"title":"r/rₘₐₓ","values":[0.03,0.04,0.05,0.06,0.07,0.08,0.09,0.1,0.2,0.3,0.4,0.5,0.6,0.7,0.8,0.9,1],
    "labelExpr":"abs(log(datum.value)/LN10 - round(log(datum.value)/LN10)) < 0.001 ? ['10⁻⁴','10⁻³','10⁻²','10⁻¹','10⁰'][round(log(datum.value)/LN10)+4] : ''",
    "tickSize":{"condition":{"test":"abs(log(datum.value)/LN10 - round(log(datum.value)/LN10)) < 0.001","value":10},"value":5},
    "gridOpacity":{"condition":{"test":"abs(log(datum.value)/LN10 - round(log(datum.value)/LN10)) < 0.001","value":1},"value":0},
    "labelPadding":4,"titlePadding":10}},
  "y":{"field":"y","type":"quantitative","scale":{"type":"log","domain":[1.995e-5,2.032],"nice":false},
   "axis":{"title":"p/pₘₐₓ","values":[3e-5,4e-5,5e-5,6e-5,7e-5,8e-5,9e-5,1e-4,2e-4,3e-4,4e-4,5e-4,6e-4,7e-4,8e-4,9e-4,0.001,0.002,0.003,0.004,0.005,0.006,0.007,0.008,0.009,0.01,0.02,0.03,0.04,0.05,0.06,0.07,0.08,0.09,0.1,0.2,0.3,0.4,0.5,0.6,0.7,0.8,0.9,1,2],
    "labelExpr":"abs(log(datum.value)/LN10 - round(log(datum.value)/LN10)) < 0.001 ? ['10⁻⁴','10⁻³','10⁻²','10⁻¹','10⁰'][round(log(datum.value)/LN10)+4] : ''",
    "tickSize":{"condition":{"test":"abs(log(datum.value)/LN10 - round(log(datum.value)/LN10)) < 0.001","value":10},"value":5},
    "gridOpacity":{"condition":{"test":"abs(log(datum.value)/LN10 - round(log(datum.value)/LN10)) < 0.001","value":1},"value":0},
    "labelPadding":11,"titlePadding":26}}
 },
 "layer":[
  {"data":{"name":"topShade"},"mark":{"type":"rect","fill":"#000000","opacity":0.1,"clip":true},"encoding":{"x2":{"field":"x2"},"y2":{"field":"y2"}}},
  {"data":{"name":"topHatch"},"mark":{"type":"rule","stroke":"#777777","strokeWidth":2.2,"clip":true},"encoding":{"x2":{"field":"x2"},"y2":{"field":"y2"}}},
  {"data":{"name":"topBundle"},"mark":{"type":"line","stroke":"#808080","strokeWidth":1,"opacity":0.9,"clip":true},"encoding":{"detail":{"field":"c"}}},
  {"data":{"name":"topMain"},"transform":[{"filter":"datum.s=='4-sphere'"}],"mark":{"type":"line","strokeWidth":2.5,"clip":true},
   "encoding":{"color":{"field":"s","type":"nominal","scale":{"domain":["Data","4-sphere","5-sphere","Fit"],"range":["#000000","#808080","#808080","#d62728"]},"legend":{"title":null,"labelExpr":"datum.label == 'Fit' ? 'Fit D̃ = 4.2 ± 0.4' : datum.label"}},
    "strokeDash":{"field":"s","type":"nominal","scale":{"domain":["Data","4-sphere","5-sphere","Fit"],"range":[[1,0],[2.5,6],[6,6],[9,4]]},"legend":{"title":null,"labelExpr":"datum.label == 'Fit' ? 'Fit D̃ = 4.2 ± 0.4' : datum.label"}}}},
  {"data":{"name":"topMain"},"transform":[{"filter":"datum.s=='5-sphere'"}],"mark":{"type":"line","strokeWidth":2.5,"clip":true},
   "encoding":{"color":{"field":"s","type":"nominal"},"strokeDash":{"field":"s","type":"nominal"}}},
  {"data":{"name":"topMain"},"transform":[{"filter":"datum.s=='Data'"}],"mark":{"type":"line","strokeWidth":2.5,"clip":true},
   "encoding":{"color":{"field":"s","type":"nominal"},"strokeDash":{"field":"s","type":"nominal"}}},
  {"data":{"name":"topMain"},"transform":[{"filter":"datum.s=='Fit'"}],"mark":{"type":"line","strokeWidth":2.5,"clip":true},
   "encoding":{"color":{"field":"s","type":"nominal"},"strokeDash":{"field":"s","type":"nominal"}}},
  {"data":{"name":"topText"},"transform":[{"filter":"datum.a=='l'"}],"mark":{"type":"text","align":"left","baseline":"alphabetic","fontSize":23,"lineBreak":"\n","lineHeight":24,"font":"Liberation Serif","color":"black"},"encoding":{"text":{"field":"t"}}},
  {"data":{"name":"topText"},"transform":[{"filter":"datum.a=='r'"}],"mark":{"type":"text","align":"right","baseline":"alphabetic","fontSize":23,"lineBreak":"\n","lineHeight":25,"font":"Liberation Serif","color":"black"},"encoding":{"text":{"field":"t"}}}
 ]
},
{
 "width":534,"height":309,
 "title":{"text":"Wide-band Mock data","dx":-48,"offset":-20,"baseline":"alphabetic"},
 "encoding":{
  "x":{"field":"x","type":"quantitative","scale":{"type":"log","domain":[0.01518,1.488],"nice":false},
   "axis":{"title":"r/rₘₐₓ","values":[0.02,0.03,0.04,0.05,0.06,0.07,0.08,0.09,0.1,0.2,0.3,0.4,0.5,0.6,0.7,0.8,0.9,1],
    "labelExpr":"abs(log(datum.value)/LN10 - round(log(datum.value)/LN10)) < 0.001 ? ['10⁻⁴','10⁻³','10⁻²','10⁻¹','10⁰'][round(log(datum.value)/LN10)+4] : ''",
    "tickSize":{"condition":{"test":"abs(log(datum.value)/LN10 - round(log(datum.value)/LN10)) < 0.001","value":10},"value":5},
    "gridOpacity":{"condition":{"test":"abs(log(datum.value)/LN10 - round(log(datum.value)/LN10)) < 0.001","value":1},"value":0},
    "labelPadding":4,"titlePadding":10}},
  "y":{"field":"y","type":"quantitative","scale":{"type":"log","domain":[3.15e-5,2.027],"nice":false},
   "axis":{"title":"p/pₘₐₓ","values":[4e-5,5e-5,6e-5,7e-5,8e-5,9e-5,1e-4,2e-4,3e-4,4e-4,5e-4,6e-4,7e-4,8e-4,9e-4,0.001,0.002,0.003,0.004,0.005,0.006,0.007,0.008,0.009,0.01,0.02,0.03,0.04,0.05,0.06,0.07,0.08,0.09,0.1,0.2,0.3,0.4,0.5,0.6,0.7,0.8,0.9,1,2],
    "labelExpr":"abs(log(datum.value)/LN10 - round(log(datum.value)/LN10)) < 0.001 ? ['10⁻⁴','10⁻³','10⁻²','10⁻¹','10⁰'][round(log(datum.value)/LN10)+4] : ''",
    "tickSize":{"condition":{"test":"abs(log(datum.value)/LN10 - round(log(datum.value)/LN10)) < 0.001","value":10},"value":5},
    "gridOpacity":{"condition":{"test":"abs(log(datum.value)/LN10 - round(log(datum.value)/LN10)) < 0.001","value":1},"value":0},
    "labelPadding":11,"titlePadding":26}}
 },
 "layer":[
  {"data":{"name":"botShade"},"mark":{"type":"rect","fill":"#000000","opacity":0.1,"clip":true},"encoding":{"x2":{"field":"x2"},"y2":{"field":"y2"}}},
  {"data":{"name":"botHatch"},"mark":{"type":"rule","stroke":"#777777","strokeWidth":2.2,"clip":true},"encoding":{"x2":{"field":"x2"},"y2":{"field":"y2"}}},
  {"data":{"name":"botBundle"},"mark":{"type":"line","stroke":"#808080","strokeWidth":1,"opacity":0.9,"clip":true},"encoding":{"detail":{"field":"c"}}},
  {"data":{"name":"botMain"},"transform":[{"filter":"datum.s=='4-sphere'"}],"mark":{"type":"line","strokeWidth":2.5,"clip":true},
   "encoding":{"color":{"field":"s","type":"nominal","scale":{"domain":["Data","4-sphere","5-sphere","Fit"],"range":["#000000","#808080","#808080","#d62728"]},"legend":{"title":null,"labelExpr":"datum.label == 'Fit' ? 'Fit D̃ = 4.3 ± 0.2' : datum.label"}},
    "strokeDash":{"field":"s","type":"nominal","scale":{"domain":["Data","4-sphere","5-sphere","Fit"],"range":[[1,0],[2.5,6],[6,6],[9,4]]},"legend":{"title":null,"labelExpr":"datum.label == 'Fit' ? 'Fit D̃ = 4.3 ± 0.2' : datum.label"}}}},
  {"data":{"name":"botMain"},"transform":[{"filter":"datum.s=='5-sphere'"}],"mark":{"type":"line","strokeWidth":2.5,"clip":true},
   "encoding":{"color":{"field":"s","type":"nominal"},"strokeDash":{"field":"s","type":"nominal"}}},
  {"data":{"name":"botMain"},"transform":[{"filter":"datum.s=='Data'"}],"mark":{"type":"line","strokeWidth":2.5,"clip":true},
   "encoding":{"color":{"field":"s","type":"nominal"},"strokeDash":{"field":"s","type":"nominal"}}},
  {"data":{"name":"botMain"},"transform":[{"filter":"datum.s=='Fit'"}],"mark":{"type":"line","strokeWidth":2.5,"clip":true},
   "encoding":{"color":{"field":"s","type":"nominal"},"strokeDash":{"field":"s","type":"nominal"}}},
  {"data":{"name":"botText"},"transform":[{"filter":"datum.a=='l'"}],"mark":{"type":"text","align":"left","baseline":"alphabetic","fontSize":23,"lineBreak":"\n","lineHeight":24,"font":"Liberation Serif","color":"black"},"encoding":{"text":{"field":"t"}}},
  {"data":{"name":"botText"},"transform":[{"filter":"datum.a=='r'"}],"mark":{"type":"text","align":"right","baseline":"alphabetic","fontSize":23,"lineBreak":"\n","lineHeight":25,"font":"Liberation Serif","color":"black"},"encoding":{"text":{"field":"t"}}}
 ]
}
]
}
